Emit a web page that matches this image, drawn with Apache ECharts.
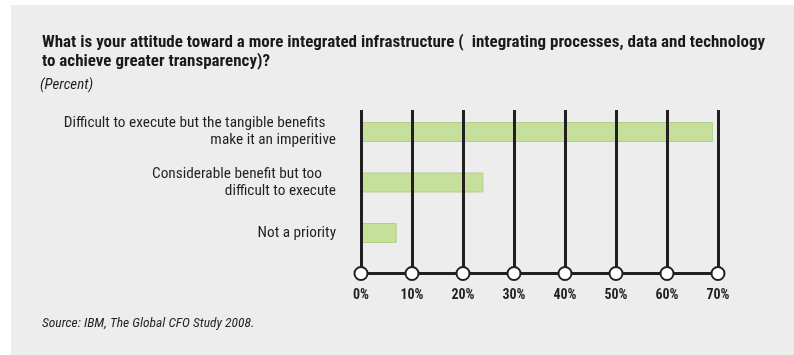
<!DOCTYPE html>
<html>
<head>
<meta charset="utf-8">
<style>
  html, body { margin: 0; padding: 0; background: #ffffff; }
  #chart { width: 794px; height: 355px; }
</style>
<script src="https://cdn.jsdelivr.net/npm/echarts@6/dist/echarts.min.js"></script>
</head>
<body>
<div id="chart"></div>
<script>
// Survey answers, top to bottom
const categories = [
  'Difficult to execute but the tangible benefits   \nmake it an imperitive',
  'Considerable benefit but too    \ndifficult to execute',
  'Not a priority'
];
const shares = [69, 24, 7];           // percent of respondents
const tickValues = [0, 10, 20, 30, 40, 50, 60, 70];

const titleText = 'What is your attitude toward a more integrated infrastructure (  integrating processes, data and technology\nto achieve greater transparency)?';
const unitText = '(Percent)';
const sourceText = 'Source: IBM, The Global CFO Study 2008.';

const FONT = '"Roboto Condensed", "Open Sans Condensed", "Liberation Sans", sans-serif';
const INK = '#231f20';

const chart = echarts.init(document.getElementById('chart'), null, { renderer: 'canvas' });

chart.setOption({
  backgroundColor: '#ffffff',
  animation: false,
  graphic: [{
    type: 'rect',
    z: -10,
    shape: { x: 11, y: 5, width: 783, height: 350 },
    style: { fill: '#ededed' }
  }],
  title: [
    {
      text: titleText,
      left: 37, top: 28,
      textStyle: { fontFamily: FONT, fontWeight: 'bold', fontSize: 17, lineHeight: 19, color: '#1a1a1a' }
    },
    {
      text: unitText,
      left: 35, top: 73,
      textStyle: { fontFamily: FONT, fontStyle: 'italic', fontWeight: 'normal', fontSize: 15, color: INK }
    },
    {
      text: sourceText,
      left: 37, top: 312,
      textStyle: { fontFamily: FONT, fontStyle: 'italic', fontWeight: 'normal', fontSize: 13.5, color: INK }
    }
  ],
  grid: [
    // bars
    { left: 361, right: 76, top: 106.75, height: 151.5 },
    // frame: vertical rules, baseline and tick labels
    { left: 361, right: 76, top: 110, bottom: 81.5 }
  ],
  xAxis: [
    {
      gridIndex: 0, type: 'value', min: 0, max: 70, interval: 10,
      show: false
    },
    {
      gridIndex: 1, type: 'value', min: 0, max: 70, interval: 10,
      z: 5,
      axisLine: { show: true, lineStyle: { color: INK, width: 3 } },
      axisTick: { show: false },
      splitLine: { show: true, lineStyle: { color: INK, width: 3 } },
      axisLabel: {
        margin: 15,
        formatter: '{value}%',
        fontFamily: FONT, fontWeight: 'bold', fontSize: 14, color: INK
      }
    }
  ],
  yAxis: [
    {
      gridIndex: 0, type: 'category', data: categories, inverse: true,
      axisLine: { show: false }, axisTick: { show: false }, splitLine: { show: false },
      axisLabel: {
        margin: 25,
        align: 'right',
        padding: [4, 0, 0, 0],
        fontFamily: FONT, fontSize: 15.3, lineHeight: 17, color: INK
      }
    },
    {
      gridIndex: 1, type: 'value', min: 0, max: 1, show: false
    }
  ],
  series: [
    {
      type: 'bar',
      xAxisIndex: 0, yAxisIndex: 0,
      data: shares,
      barWidth: 20,
      itemStyle: { color: '#c6df9b', borderColor: '#b3cf8a', borderWidth: 1 },
      z: 2
    },
    {
      type: 'scatter',
      xAxisIndex: 1, yAxisIndex: 1,
      data: tickValues.map(v => [v, 0]),
      symbol: 'circle',
      symbolSize: 13,
      itemStyle: { color: '#ffffff', borderColor: INK, borderWidth: 2, opacity: 1 },
      z: 10,
      silent: true
    }
  ]
});
</script>
</body>
</html>
